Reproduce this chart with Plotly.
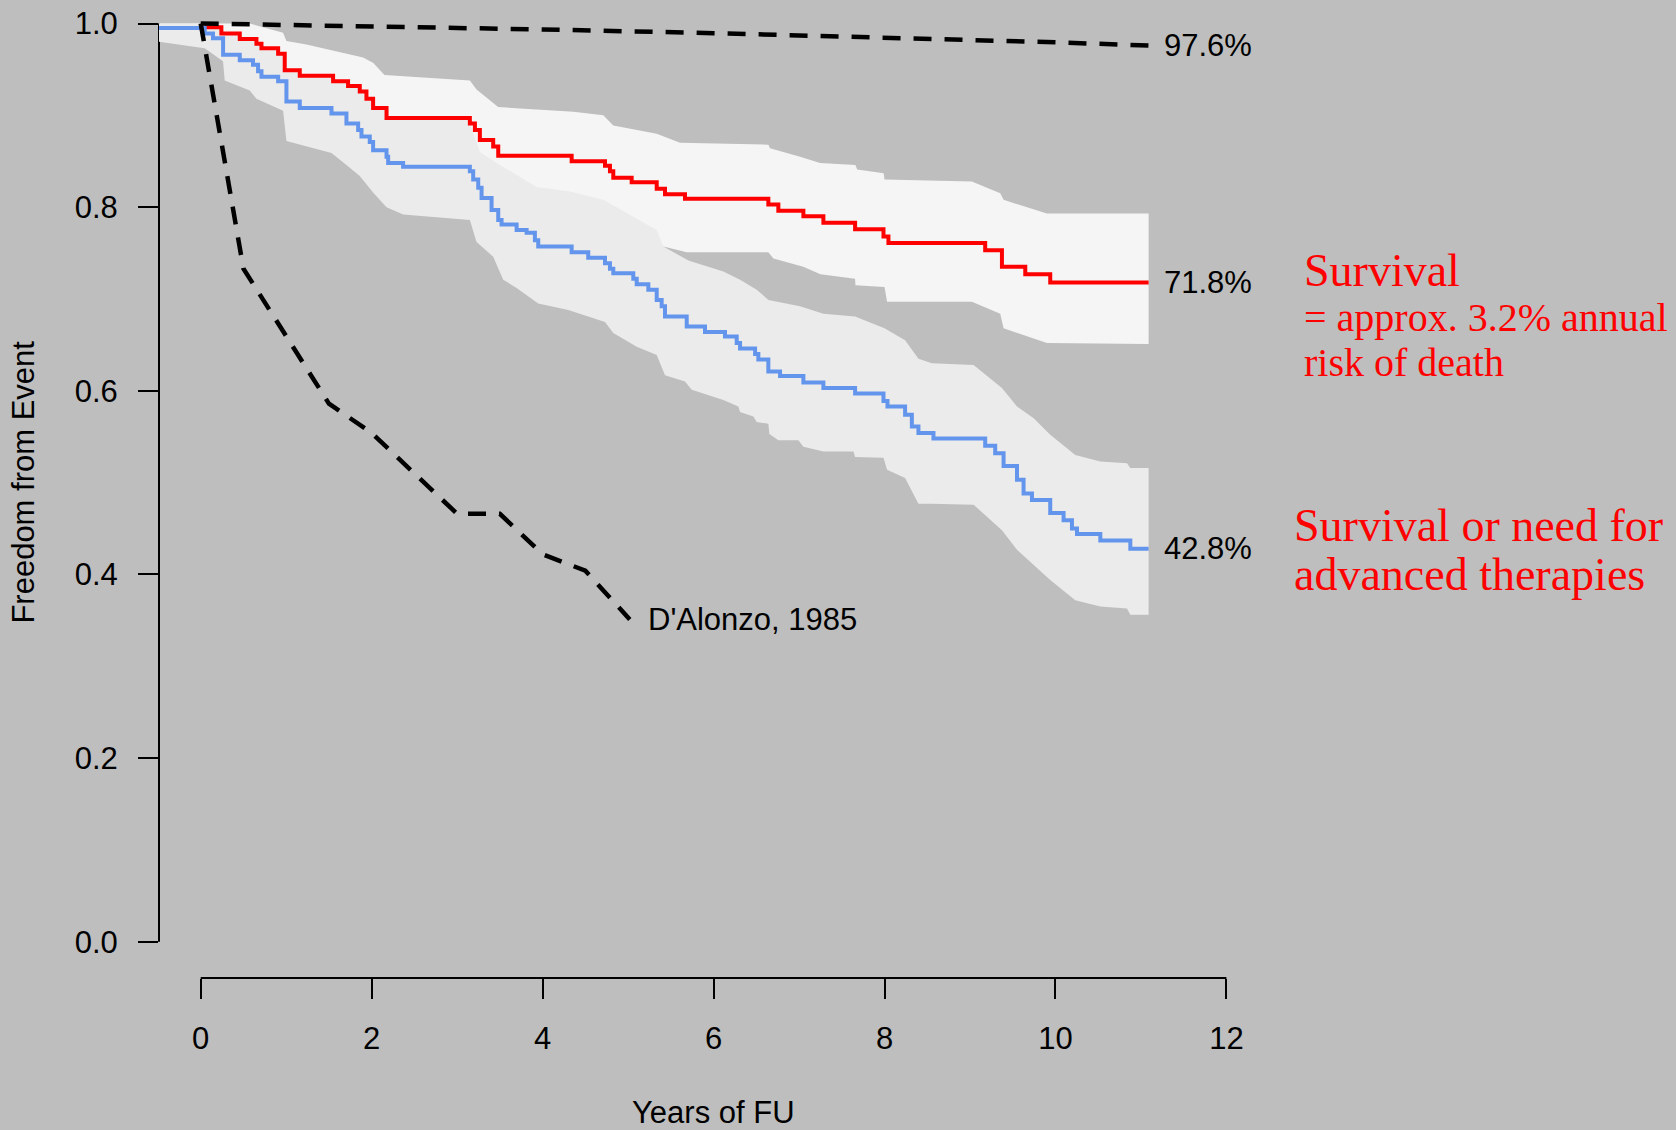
import plotly.graph_objects as go

# ---------------------------------------------------------------
# Kaplan-Meier estimates (step starts: time in years, probability)
# ---------------------------------------------------------------
surv_t = [0.047, 0.242, 0.457, 0.652, 0.711, 0.906, 0.983, 1.159, 1.549, 1.724,
          1.861, 1.939, 2.017, 2.174, 3.149, 3.208, 3.266, 3.422, 3.481, 4.340,
          4.730, 4.788, 4.827, 5.042, 5.335, 5.432, 5.666, 6.641, 6.758, 7.051,
          7.285, 7.656, 7.988, 8.046, 9.178, 9.374, 9.647, 9.939]
surv_s = [0.996, 0.989, 0.983, 0.978, 0.973, 0.967, 0.949, 0.943, 0.937, 0.932,
          0.926, 0.918, 0.908, 0.897, 0.891, 0.884, 0.873, 0.866, 0.856, 0.850,
          0.845, 0.839, 0.832, 0.827, 0.820, 0.814, 0.809, 0.803, 0.796, 0.790,
          0.783, 0.776, 0.768, 0.761, 0.753, 0.735, 0.727, 0.718]

comp_t = [-0.488, 0.047, 0.144, 0.262, 0.457, 0.612, 0.671, 0.711, 0.906, 1.003,
          1.159, 1.530, 1.705, 1.842, 1.881, 1.978, 2.017, 2.174, 2.193, 2.368,
          3.149, 3.188, 3.247, 3.286, 3.403, 3.481, 3.520, 3.696, 3.813, 3.910,
          3.949, 4.340, 4.534, 4.730, 4.788, 4.827, 5.061, 5.101, 5.237, 5.335,
          5.393, 5.432, 5.686, 5.900, 6.134, 6.271, 6.310, 6.486, 6.524, 6.641,
          6.778, 7.051, 7.285, 7.656, 7.988, 8.035, 8.241, 8.320, 8.397, 8.573,
          9.178, 9.295, 9.393, 9.550, 9.627, 9.725, 9.939, 10.095, 10.193, 10.252,
          10.525, 10.876]
comp_s = [0.995, 0.989, 0.984, 0.966, 0.960, 0.955, 0.948, 0.942, 0.937, 0.915,
          0.908, 0.902, 0.891, 0.884, 0.877, 0.871, 0.862, 0.855, 0.848, 0.844,
          0.839, 0.830, 0.821, 0.810, 0.797, 0.786, 0.781, 0.775, 0.772, 0.764,
          0.757, 0.751, 0.745, 0.739, 0.733, 0.728, 0.722, 0.716, 0.710, 0.699,
          0.692, 0.681, 0.670, 0.664, 0.659, 0.652, 0.646, 0.640, 0.634, 0.621,
          0.616, 0.609, 0.603, 0.597, 0.589, 0.583, 0.574, 0.561, 0.554, 0.548,
          0.540, 0.532, 0.518, 0.503, 0.488, 0.481, 0.467, 0.459, 0.450, 0.444,
          0.437, 0.428]

t_end = 11.09

# ---------------------------------------------------------------
# Confidence bands (polygon outlines)
# ---------------------------------------------------------------
surv_up_t = [-0.488, 0.574, 0.963, 1.003, 1.237, 1.90, 2.02, 2.15, 3.149, 3.227,
             3.48, 4.36, 4.71, 4.827, 5.335, 5.607, 6.641, 6.66, 7.012, 7.246,
             7.66, 7.68, 7.99, 8.0, 9.022, 9.354, 9.393, 9.900, 11.09]
surv_up_s = [1.0, 1.0, 0.990, 0.981, 0.977, 0.963, 0.957, 0.944, 0.938, 0.928,
             0.909, 0.904, 0.900, 0.889, 0.880, 0.870, 0.868, 0.864, 0.855, 0.848,
             0.846, 0.841, 0.837, 0.830, 0.828, 0.815, 0.808, 0.793, 0.793]
surv_lo_t = [-0.488, 0.5, 1.0, 2.0, 3.0, 3.5, 4.0, 4.7, 5.412, 5.686, 6.641, 6.700,
             7.05, 7.25, 7.656, 7.66, 8.0, 8.03, 9.022, 9.354, 9.393, 9.900, 11.09]
surv_lo_s = [0.990, 0.975, 0.930, 0.870, 0.850, 0.810, 0.795, 0.775, 0.757, 0.751,
             0.751, 0.744, 0.735, 0.727, 0.722, 0.715, 0.713, 0.697, 0.697, 0.684,
             0.668, 0.652, 0.651]

# upper limit of the composite band: runs along the survival curve until ~3.15 y
comp_up_split = 3.149
comp_up_t = [3.266, 3.50, 3.93, 4.32, 4.71, 5.042, 5.335, 5.412, 5.705, 6.115,
             6.310, 6.505, 6.641, 7.012, 7.285, 7.656, 8.0, 8.241, 8.397, 8.554,
             9.042, 9.374, 9.550, 9.745, 9.939, 10.232, 10.525, 10.837, 10.876, 11.09]
comp_up_s = [0.860, 0.846, 0.822, 0.817, 0.808, 0.790, 0.775, 0.757, 0.742, 0.730,
             0.721, 0.710, 0.699, 0.692, 0.684, 0.681, 0.668, 0.655, 0.635, 0.630,
             0.628, 0.603, 0.583, 0.570, 0.552, 0.530, 0.523, 0.521, 0.516, 0.516]
comp_lo_t = [-0.488, 0.047, 0.261, 0.281, 0.574, 0.652, 0.964, 1.003, 1.530, 1.705,
             1.861, 2.017, 2.174, 2.368, 3.149, 3.227, 3.422, 3.539, 3.696, 3.949,
             4.30, 4.730, 4.827, 5.101, 5.335, 5.432, 5.666, 5.745, 6.115, 6.290,
             6.31, 6.466, 6.505, 6.641, 6.653, 6.758, 6.992, 7.051, 7.285, 7.637,
             7.656, 7.988, 8.03, 8.241, 8.397, 8.554, 9.042, 9.374, 9.550, 9.939,
             10.232, 10.525, 10.837, 10.876, 11.09]
comp_lo_s = [0.980, 0.973, 0.959, 0.938, 0.927, 0.918, 0.905, 0.872, 0.859, 0.846,
             0.834, 0.816, 0.800, 0.792, 0.786, 0.762, 0.746, 0.721, 0.712, 0.695,
             0.688, 0.675, 0.663, 0.648, 0.639, 0.617, 0.610, 0.601, 0.590, 0.583,
             0.577, 0.572, 0.566, 0.564, 0.553, 0.546, 0.546, 0.539, 0.534, 0.534,
             0.528, 0.527, 0.514, 0.505, 0.477, 0.477, 0.476, 0.448, 0.427, 0.394,
             0.372, 0.365, 0.363, 0.356, 0.356]

# expected survival of the matched general population
exp_t = [0, 2, 4, 6, 8, 10, 11.09]
exp_s = [1.0, 0.997, 0.9935, 0.9895, 0.985, 0.9795, 0.976]

# historical registry survival (D'Alonzo, 1985)
dal_t = [0, 0.5, 1.5, 2.0, 2.5, 3.0, 3.5, 4.0, 4.5, 5.02]
dal_s = [1.0, 0.733, 0.586, 0.554, 0.510, 0.466, 0.466, 0.422, 0.404, 0.351]

x_ticks = [0, 2, 4, 6, 8, 10, 12]
y_ticks = [0.0, 0.2, 0.4, 0.6, 0.8, 1.0]

BG = "#BEBEBE"
SANS = "Liberation Sans, Arial, sans-serif"
SERIF = "Liberation Serif, Times New Roman, serif"
DASH = "18px,13px"


def staircase(t, s, t_stop):
    xs, ys = [], []
    for i, (ti, si) in enumerate(zip(t, s)):
        if ti > t_stop:
            break
        if i > 0:
            xs.append(ti)
            ys.append(s[i - 1])
        xs.append(ti)
        ys.append(si)
    return xs, ys


def polygon(up_t, up_s, lo_t, lo_s):
    return list(up_t) + list(lo_t[::-1]), list(up_s) + list(lo_s[::-1])


fig = go.Figure()

# survival band
px_, py_ = polygon(surv_up_t, surv_up_s, surv_lo_t, surv_lo_s)
fig.add_trace(go.Scatter(x=px_, y=py_, mode="lines", fill="toself",
                         fillcolor="#F5F5F5", line=dict(width=0),
                         hoverinfo="skip", showlegend=False))

# composite band
st_x, st_y = staircase(surv_t, surv_s, comp_up_split)
cu_t = [comp_lo_t[0]] + st_x + comp_up_t
cu_s = [1.0, 1.0] + st_y[1:] + comp_up_s
px_, py_ = polygon(cu_t, cu_s, comp_lo_t, comp_lo_s)
fig.add_trace(go.Scatter(x=px_, y=py_, mode="lines", fill="toself",
                         fillcolor="#EBEBEB", line=dict(width=0),
                         hoverinfo="skip", showlegend=False))

# survival curve
fig.add_trace(go.Scatter(x=surv_t + [t_end], y=surv_s + [surv_s[-1]],
                         mode="lines", line=dict(color="#FF0000", width=4, shape="hv"),
                         showlegend=False))
# composite curve
fig.add_trace(go.Scatter(x=comp_t + [t_end], y=comp_s + [comp_s[-1]],
                         mode="lines", line=dict(color="#6495ED", width=4, shape="hv"),
                         showlegend=False))
# expected survival
fig.add_trace(go.Scatter(x=exp_t, y=exp_s, mode="lines",
                         line=dict(color="black", width=4.5, dash=DASH),
                         showlegend=False))
# D'Alonzo registry
fig.add_trace(go.Scatter(x=dal_t, y=dal_s, mode="lines",
                         line=dict(color="black", width=4.5, dash=DASH),
                         showlegend=False))

black = dict(family=SANS, size=31, color="black")
red_big = dict(family=SERIF, size=46, color="#FF0000")
red_small = dict(family=SERIF, size=40, color="#FF0000")

ann = [
    dict(x=exp_t[-1], y=exp_s[-1], text=f"{exp_s[-1]*100:.1f}%", xanchor="left",
         xshift=13, font=black),
    dict(x=t_end, y=surv_s[-1], text=f"{surv_s[-1]*100:.1f}%", xanchor="left",
         xshift=13, font=black),
    dict(x=t_end, y=comp_s[-1], text=f"{comp_s[-1]*100:.1f}%", xanchor="left",
         xshift=13, font=black),
    dict(x=dal_t[-1], y=dal_s[-1], text="D'Alonzo, 1985", xanchor="left",
         xshift=16, font=black),
    dict(x=12.88, y=0.7305, text="Survival", xanchor="left", font=red_big),
    dict(x=12.88, y=0.6798, text="= approx. 3.2% annual", xanchor="left", font=red_small),
    dict(x=12.88, y=0.6313, text="risk of death", xanchor="left", font=red_small),
    dict(x=12.77, y=0.4538, text="Survival or need for", xanchor="left", font=red_big),
    dict(x=12.77, y=0.3994, text="advanced therapies", xanchor="left", font=red_big),
    # axis titles
    dict(x=6, xref="x", y=0, yref="paper", yshift=-134, text="Years of FU",
         yanchor="middle", font=black),
    dict(x=0, xref="paper", xshift=-135, y=0.5, yref="y", text="Freedom from Event",
         textangle=-90, xanchor="center", font=black),
]
for a in ann:
    a.setdefault("xref", "x")
    a.setdefault("yref", "y")
    a.setdefault("yanchor", "middle")
    a["showarrow"] = False

fig.update_layout(
    width=1676, height=1130,
    margin=dict(l=159, r=0, t=0, b=152),
    paper_bgcolor=BG, plot_bgcolor=BG,
    annotations=ann,
    shapes=[
        dict(type="line", xref="x", yref="paper", x0=x_ticks[0], x1=x_ticks[-1],
             y0=0, y1=0, line=dict(color="black", width=2), layer="below"),
        dict(type="line", xref="paper", yref="y", x0=0, x1=0,
             y0=y_ticks[0], y1=y_ticks[-1], line=dict(color="black", width=2),
             layer="below"),
    ],
    xaxis=dict(range=[-0.4879, 17.26], tickvals=x_ticks, ticks="outside",
               ticklen=20, tickwidth=2, tickcolor="black", showline=False,
               showgrid=False, zeroline=False, tickfont=black,
               ticklabelstandoff=13),
    yaxis=dict(range=[-0.03953, 1.02559], tickvals=y_ticks, tickformat=".1f",
               ticks="outside", ticklen=20, tickwidth=2, tickcolor="black",
               showline=False, showgrid=False, zeroline=False, tickfont=black,
               ticklabelstandoff=14),
    showlegend=False,
)

fig.write_html("out.html")
